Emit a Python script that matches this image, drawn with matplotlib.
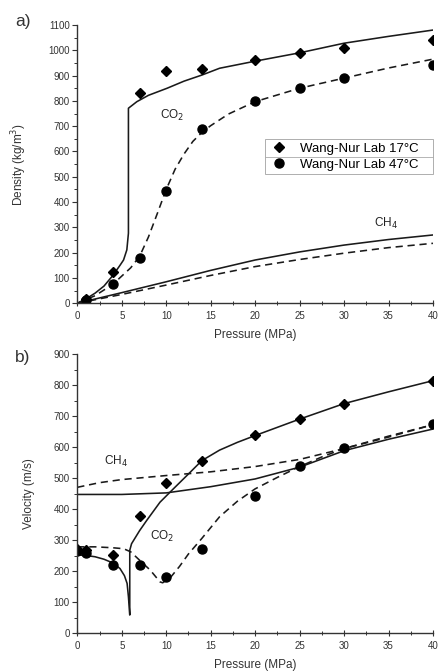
import numpy as np
import matplotlib
matplotlib.use("Agg")
import matplotlib.pyplot as plt
from matplotlib.ticker import MultipleLocator

plt.rcParams['font.family'] = ['Liberation Sans', 'DejaVu Sans']

# measured points (Wang-Nur lab)
p_lab = [0, 1, 4, 7, 10, 14, 20, 25, 30, 40]
p_lab_dens = [1, 4, 7, 10, 14, 20, 25, 30, 40]
dens_17 = [15, 122, 830, 918, 928, 962, 990, 1008, 1041]
dens_47 = [13, 76, 178, 445, 688, 800, 850, 889, 942]
vel_17 = [272, 268, 251, 379, 483, 556, 640, 691, 740, 814]
vel_47 = [265, 258, 219, 221, 181, 270, 442, 538, 596, 674]

# model curves, density
co2_17_p = [0, 1, 2, 3, 4, 4.8, 5.2, 5.57, 5.75, 5.75, 6.7, 8, 10.1, 12, 14, 16, 20, 25, 30, 35, 40]
co2_17_d = [0, 18, 40, 68, 110, 150, 171, 211, 277, 771, 797, 822, 850, 878, 902, 929, 957, 990, 1028, 1055, 1080]
co2_47_p = [0, 2, 4, 6, 7, 8, 9, 10, 11, 12, 13, 14, 15, 17, 20, 25, 30, 35, 40]
co2_47_d = [0, 30, 75, 140, 185, 262, 355, 450, 530, 590, 640, 675, 702, 748, 797, 850, 890, 930, 965]
ch4_17_p = [0, 5, 10, 15, 20, 25, 30, 35, 40]
ch4_17_d = [0, 42, 85, 130, 171, 203, 230, 252, 270]
ch4_47_p = [0, 5, 10, 15, 20, 25, 30, 35, 40]
ch4_47_d = [0, 35, 72, 110, 145, 173, 198, 220, 237]

# model curves, velocity
co2v_17_p = [0, 1, 2, 3, 4, 4.8, 5.3, 5.6, 5.75, 5.9, 5.9, 6.1, 7, 7.8, 9.3, 10.8, 12.5, 14, 16, 18, 20, 25, 30, 35, 40]
co2v_17_v = [252, 250, 246, 238, 226, 208, 185, 160, 117, 58, 267, 288, 330, 363, 422, 465, 513, 556, 590, 615, 637, 690, 740, 778, 814]
co2v_47_p = [0, 2, 4, 5.2, 6, 7, 8.2, 9.3, 9.6, 10.5, 11.5, 12.5, 14, 16, 18, 20, 22.5, 25, 27.5, 30, 35, 40]
co2v_47_v = [278, 278, 275, 272, 262, 235, 203, 165, 162, 180, 215, 255, 305, 375, 425, 465, 502, 537, 568, 595, 635, 672]
ch4v_17_p = [0, 5, 10, 12, 15, 20, 25, 30, 35, 40]
ch4v_17_v = [447, 447, 452, 460, 472, 497, 535, 588, 625, 658]
ch4v_47_p = [0, 2.5, 5, 10, 15, 20, 25, 30, 35, 40]
ch4v_47_v = [470, 485, 495, 508, 520, 537, 560, 595, 632, 672]

line_col = '#1a1a1a'
dash = (0, (4.5, 3))
lw = 1.15
ms = 6.5

fig = plt.figure(figsize=(4.38, 6.72), dpi=100)
ax1 = fig.add_axes([0.1765, 0.5487, 0.812, 0.4141])
ax2 = fig.add_axes([0.1765, 0.058, 0.812, 0.4152])


def style_axis(ax, ymax, ystep):
    ax.set_xlim(0, 40)
    ax.set_ylim(0, ymax)
    ax.spines['top'].set_visible(False)
    ax.spines['right'].set_visible(False)
    for s in ['left', 'bottom']:
        ax.spines[s].set_linewidth(1.0)
        ax.spines[s].set_color('#333333')
    ax.xaxis.set_major_locator(MultipleLocator(5))
    ax.xaxis.set_minor_locator(MultipleLocator(2.5))
    ax.yaxis.set_major_locator(MultipleLocator(ystep))
    ax.yaxis.set_minor_locator(MultipleLocator(ystep / 2))
    ax.tick_params(axis='x', which='both', direction='inout', colors='#333333', labelsize=7, pad=3)
    ax.tick_params(axis='x', which='major', length=5, width=0.8)
    ax.tick_params(axis='x', which='minor', length=3, width=0.7)
    ax.tick_params(axis='y', which='both', direction='out', colors='#333333', labelsize=7, pad=2)
    ax.tick_params(axis='y', which='major', length=3.5, width=0.8)
    ax.tick_params(axis='y', which='minor', length=2, width=0.7)
    ax.set_xlabel('Pressure (MPa)', fontsize=8.5, color='#333333', labelpad=6)


# a) density
ax1.plot(co2_17_p, co2_17_d, color=line_col, lw=lw)
ax1.plot(co2_47_p, co2_47_d, color=line_col, lw=lw, linestyle=dash)
ax1.plot(ch4_17_p, ch4_17_d, color=line_col, lw=lw)
ax1.plot(ch4_47_p, ch4_47_d, color=line_col, lw=lw, linestyle=dash)
ax1.plot(p_lab_dens, dens_17, linestyle='none', marker='D', ms=ms * 0.85, color='black',
         label='Wang-Nur Lab 17°C')
ax1.plot(p_lab_dens, dens_47, linestyle='none', marker='o', ms=ms, color='black',
         label='Wang-Nur Lab 47°C')
style_axis(ax1, 1100, 100)
ax1.set_ylabel('Density (kg/m$^3$)', fontsize=8.5, color='#333333', labelpad=14)
ax1.text(10.7, 742, 'CO$_2$', fontsize=8.5, ha='center', va='center', color='#222222')
ax1.text(34.7, 317, 'CH$_4$', fontsize=8.5, ha='center', va='center', color='#222222')
leg = ax1.legend(loc='upper left', bbox_to_anchor=(0.528, 0.46, 0.472, 0.13), mode='expand',
                 fontsize=9.5, frameon=True, fancybox=False, edgecolor='#999999',
                 borderpad=0.25, handletextpad=0.8, handlelength=1.6, labelspacing=0.3,
                 borderaxespad=0)
leg.get_frame().set_linewidth(0.7)
fig.text(0.035, 0.968, 'a)', fontsize=12.5, color='#333333', va='center')

# b) velocity
ax2.plot(co2v_17_p, co2v_17_v, color=line_col, lw=lw)
ax2.plot(co2v_47_p, co2v_47_v, color=line_col, lw=lw, linestyle=dash)
ax2.plot(ch4v_17_p, ch4v_17_v, color=line_col, lw=lw)
ax2.plot(ch4v_47_p, ch4v_47_v, color=line_col, lw=lw, linestyle=dash)
ax2.plot(p_lab, vel_17, linestyle='none', marker='D', ms=ms * 0.85, color='black')
ax2.plot(p_lab, vel_47, linestyle='none', marker='o', ms=ms, color='black')
style_axis(ax2, 900, 100)
ax2.set_ylabel('Velocity (m/s)', fontsize=8.5, color='#333333', labelpad=13)
ax2.text(4.3, 552, 'CH$_4$', fontsize=8.5, ha='center', va='center', color='#222222')
ax2.text(9.5, 310, 'CO$_2$', fontsize=8.5, ha='center', va='center', color='#222222')
fig.text(0.035, 0.468, 'b)', fontsize=12.5, color='#333333', va='center')

# thin divider between the two legend rows, placed from the drawn legend box
fig.canvas.draw()
bb = leg.get_frame().get_window_extent().transformed(ax1.transAxes.inverted())
ymid = (bb.y0 + bb.y1) / 2
ax1.plot([bb.x0, bb.x1], [ymid, ymid], transform=ax1.transAxes, color='#aaaaaa', lw=0.6,
         zorder=6, clip_on=False)

fig.savefig('out.png', dpi=100)
